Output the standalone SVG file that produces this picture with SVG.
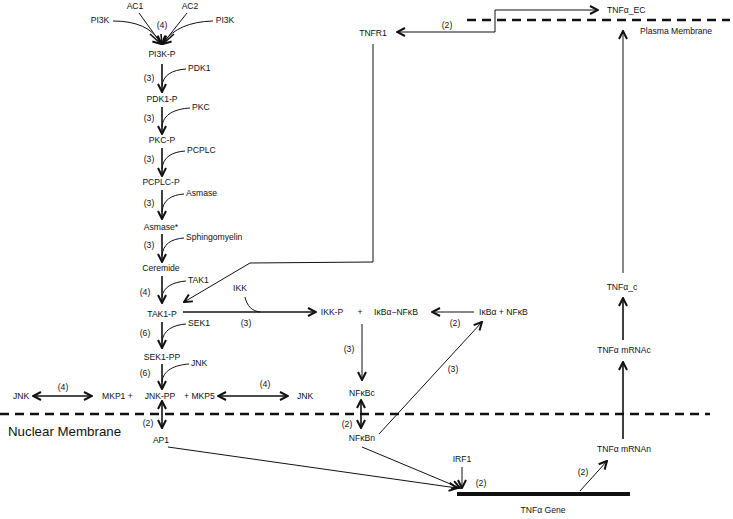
<svg xmlns="http://www.w3.org/2000/svg" width="733" height="519" viewBox="0 0 733 519">
<style>
text{font-family:"Liberation Sans",Arial,sans-serif;font-size:8.6px;fill:#111}
.m{text-anchor:middle}
.big{font-size:13.3px}
.ln{fill:none;stroke:#111;stroke-width:1}
.th{fill:none;stroke:#111;stroke-width:1.6}
.a{marker-end:url(#ah)}
.d{marker-start:url(#ah);marker-end:url(#ah)}
.mem{fill:none;stroke:#111;stroke-width:2.5;stroke-dasharray:9 6}
</style>
<defs>
<marker id="ah" viewBox="0 0 10 10" refX="9" refY="5" markerWidth="10" markerHeight="10" markerUnits="userSpaceOnUse" orient="auto-start-reverse">
<path d="M1,1 L9,5 L1,9" fill="none" stroke="#111" stroke-width="2"/>
</marker>
</defs>
<rect width="733" height="519" fill="#fff"/>
<g id="membranes">
<path class="mem" d="M467,20 L730,20"/>
<path class="mem" d="M0,414 L710,414"/>
<path d="M457,494 L630,494" stroke="#111" stroke-width="4" fill="none"/>
</g>
<g id="connectors">
<path class="ln" d="M113,21 Q148,21 160,42"/>
<path class="ln" d="M139,13 L160,42"/>
<path class="ln" d="M187,13 L164,42"/>
<path class="ln" d="M213,21 Q178,22 164,42"/>
<path class="th a" d="M161,34 L162,44"/>
<path class="th a" d="M150,34 L161,44"/>
<path class="th a" d="M174,34 L163,44"/>
<path class="th a" d="M162,64 L162,92"/>
<path class="th a" d="M162,107 L162,134"/>
<path class="th a" d="M162,148 L162,176"/>
<path class="th a" d="M162,190 L162,219"/>
<path class="th a" d="M162,234 L162,262"/>
<path class="th a" d="M162,276 L162,303"/>
<path class="th a" d="M162,322 L162,348"/>
<path class="th a" d="M162,364 L162,389"/>
<path class="ln" d="M186,69 C172,70 163,75 162,86"/>
<path class="ln" d="M190,108 C175,109 163,114 162,127"/>
<path class="ln" d="M185,151 C172,152 163,157 162,169"/>
<path class="ln" d="M184,194 C171,195 163,200 162,212"/>
<path class="ln" d="M184,238 C171,239 163,244 162,256"/>
<path class="ln" d="M186,281 C173,282 163,287 162,297"/>
<path class="ln" d="M186,324 C173,325 163,330 162,342"/>
<path class="ln" d="M189,364 C175,365 163,370 162,382"/>
<path class="ln a" d="M373,44 L373,262 L250,263 L184,302"/>
<path class="th a" d="M183,312 L316,312"/>
<path class="ln" d="M245,297 C247,306 252,311 260,312"/>
<path class="ln a" d="M474,312 L432,312"/>
<path class="ln a" d="M362,324 L362,380"/>
<path class="th d" d="M361,400 L361,428"/>
<path class="th d" d="M162,401 L162,428"/>
<path class="th d" d="M33,396 L92,396"/>
<path class="th d" d="M218,396 L288,396"/>
<path class="ln a" d="M379,434 L482,322"/>
<path class="ln a" d="M168,447 L457,488"/>
<path class="ln a" d="M362,447 L460,488"/>
<path class="ln a" d="M462,467 L462,488"/>
<path class="ln a" d="M580,491 L607,461"/>
<path class="th a" d="M623,439 L623,362"/>
<path class="th a" d="M623,340 L623,298"/>
<path class="ln a" d="M623,273 L623,31"/>
<path class="ln a" d="M495,32 L397,32"/>
<path class="ln a" d="M495,32 L495,10 L598,10"/>
</g>
<g id="n_ac1"><text class="m" x="135" y="9">AC1</text></g>
<g id="n_ac2"><text class="m" x="190" y="9">AC2</text></g>
<g id="n_pi3k_l"><text class="m" x="100" y="23">PI3K</text></g>
<g id="n_pi3k_r"><text class="m" x="225" y="23">PI3K</text></g>
<g id="l1"><text class="m" x="162" y="28">(4)</text></g>
<g id="n_pi3kp"><text class="m" x="162" y="57">PI3K-P</text></g>
<g id="n_pdk1"><text x="188" y="71">PDK1</text></g>
<g id="l2"><text class="m" x="149" y="81">(3)</text></g>
<g id="n_pdk1p"><text class="m" x="162" y="102">PDK1-P</text></g>
<g id="n_pkc"><text x="192" y="110">PKC</text></g>
<g id="l3"><text class="m" x="149" y="121">(3)</text></g>
<g id="n_pkcp"><text class="m" x="162" y="143">PKC-P</text></g>
<g id="n_pcplc"><text x="187" y="153">PCPLC</text></g>
<g id="l4"><text class="m" x="149" y="162">(3)</text></g>
<g id="n_pcplcp"><text class="m" x="161" y="185">PCPLC-P</text></g>
<g id="n_asmase"><text x="186" y="196">Asmase</text></g>
<g id="l5"><text class="m" x="149" y="206">(3)</text></g>
<g id="n_asmases"><text class="m" x="161" y="230">Asmase*</text></g>
<g id="n_sph"><text x="186" y="240">Sphingomyelin</text></g>
<g id="l6"><text class="m" x="149" y="248">(3)</text></g>
<g id="n_cer"><text class="m" x="161" y="271">Ceremide</text></g>
<g id="n_tak1"><text x="188" y="283">TAK1</text></g>
<g id="l7"><text class="m" x="145" y="295">(4)</text></g>
<g id="n_tak1p"><text class="m" x="162" y="317">TAK1-P</text></g>
<g id="n_ikk"><text class="m" x="240" y="291">IKK</text></g>
<g id="n_sek1"><text x="188" y="326">SEK1</text></g>
<g id="l8"><text class="m" x="246" y="326">(3)</text></g>
<g id="l9"><text class="m" x="145" y="336">(6)</text></g>
<g id="n_sek1pp"><text class="m" x="162" y="360">SEK1-PP</text></g>
<g id="n_jnk"><text x="191" y="366">JNK</text></g>
<g id="l10"><text class="m" x="145" y="376">(6)</text></g>
<g id="n_jnk_l"><text class="m" x="21" y="399">JNK</text></g>
<g id="l11"><text class="m" x="63" y="390">(4)</text></g>
<g id="n_mkp1"><text x="102" y="399">MKP1 +</text></g>
<g id="n_jnkpp"><text class="m" x="160" y="399">JNK-PP</text></g>
<g id="n_mkp5"><text x="184" y="399">+ MKP5</text></g>
<g id="l12"><text class="m" x="265" y="387">(4)</text></g>
<g id="n_jnk_r"><text x="297" y="399">JNK</text></g>
<g id="n_nfkbc"><text class="m" x="362" y="396">NFκBc</text></g>
<g id="n_ikkp"><text class="m" x="332" y="315">IKK-P</text></g>
<g id="n_plus"><text class="m" x="360" y="315">+</text></g>
<g id="n_ikba_nfkb"><text x="374" y="315">IκBα−NFκB</text></g>
<g id="n_ikba_plus"><text x="479" y="315">IκBα + NFκB</text></g>
<g id="l13"><text class="m" x="455" y="326">(2)</text></g>
<g id="l14"><text class="m" x="349" y="352">(3)</text></g>
<g id="l15"><text class="m" x="453" y="372">(3)</text></g>
<g id="n_nucmem"><text class="big" x="8" y="436">Nuclear Membrane</text></g>
<g id="l16"><text class="m" x="148" y="426">(2)</text></g>
<g id="n_ap1"><text class="m" x="161" y="443">AP1</text></g>
<g id="l17"><text class="m" x="347" y="427">(2)</text></g>
<g id="n_nfkbn"><text class="m" x="362" y="441">NFκBn</text></g>
<g id="n_irf1"><text class="m" x="462" y="462">IRF1</text></g>
<g id="l18"><text class="m" x="481" y="486">(2)</text></g>
<g id="n_gene"><text class="m" x="543" y="513">TNFα Gene</text></g>
<g id="l19"><text class="m" x="583" y="475">(2)</text></g>
<g id="n_mrnan"><text class="m" x="624" y="452">TNFα mRNAn</text></g>
<g id="n_mrnac"><text class="m" x="624" y="353">TNFα mRNAc</text></g>
<g id="n_tnfc"><text class="m" x="622" y="290">TNFα_c</text></g>
<g id="n_tnfec"><text x="607" y="13">TNFα_EC</text></g>
<g id="n_plasma"><text x="640" y="34">Plasma Membrane</text></g>
<g id="n_tnfr1"><text class="m" x="373" y="36">TNFR1</text></g>
<g id="l20"><text class="m" x="447" y="28">(2)</text></g>
</svg>
